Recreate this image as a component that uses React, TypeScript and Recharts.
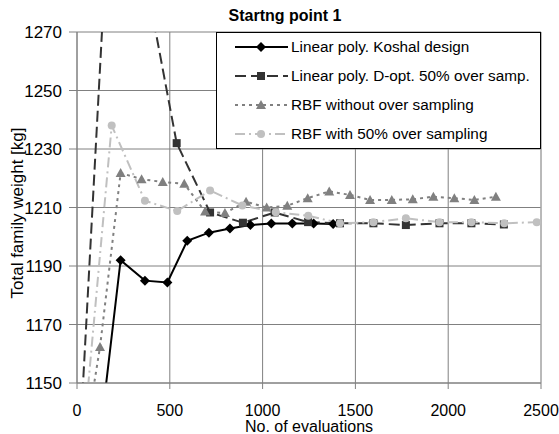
import { LineChart, Line, XAxis, YAxis, CartesianGrid, Legend, Label, ReferenceLine } from "recharts";

const xTicks = [0, 500, 1000, 1500, 2000, 2500];
const yTicks = [1150, 1170, 1190, 1210, 1230, 1250, 1270];

const koshalEvals = [150, 235, 366, 487, 594, 711, 824, 934, 1047, 1160, 1275, 1380];
const koshalWeight = [1146, 1192, 1185, 1184.4, 1198.6, 1201.4, 1202.8, 1204, 1204.5, 1204.5, 1204.5, 1204.4];

const dOptEvals = [25, 199, 537, 717, 894, 1065, 1245, 1417, 1597, 1772, 1953, 2125, 2300];
const dOptWeight = [1141, 1346, 1232, 1208.3, 1204.8, 1208.3, 1205, 1204.6, 1204.6, 1204, 1204.6, 1204.6, 1204.2];

const rbfNoOsEvals = [70, 124, 235, 348, 462, 578, 690, 797, 911, 1022, 1133, 1243, 1359, 1471, 1579, 1696, 1809, 1920, 2033, 2141, 2257];
const rbfNoOsWeight = [1141, 1162.3, 1221.8, 1219.7, 1218.7, 1218.1, 1208.6, 1208.1, 1212, 1210, 1210.6, 1213.2, 1215.5, 1214.3, 1212.6, 1212.6, 1212.8, 1213.7, 1213.2, 1212.6, 1213.7];

const rbfOsEvals = [50, 187, 366, 540, 717, 891, 1071, 1246, 1417, 1597, 1772, 1953, 2125, 2302, 2477];
const rbfOsWeight = [1142, 1238, 1212.3, 1208.8, 1215.8, 1210.7, 1208.4, 1207.2, 1204.6, 1205, 1206.3, 1205, 1205, 1204.6, 1205];

const toPoints = (xs: number[], ys: number[]) => xs.map((x, i) => ({ x, y: ys[i] }));

const FONT = "Arial, 'Liberation Sans', sans-serif";

const series = [
  { name: "Linear poly. Koshal design", data: toPoints(koshalEvals, koshalWeight), color: "#000000", shape: "diamond", dash: undefined },
  { name: "Linear poly. D-opt. 50% over samp.", data: toPoints(dOptEvals, dOptWeight), color: "#333333", shape: "square", dash: "11 5" },
  { name: "RBF without over sampling", data: toPoints(rbfNoOsEvals, rbfNoOsWeight), color: "#808080", shape: "triangle", dash: "3 4" },
  { name: "RBF with 50% over sampling", data: toPoints(rbfOsEvals, rbfOsWeight), color: "#c0c0c0", shape: "circle", dash: "10 4 2 4" },
];

function Marker({ shape, cx, cy, color }: { shape: string; cx: number; cy: number; color: string }) {
  if (shape === "diamond") {
    return <polygon points={`${cx},${cy - 5} ${cx + 5},${cy} ${cx},${cy + 5} ${cx - 5},${cy}`} fill={color} />;
  }
  if (shape === "square") {
    return <rect x={cx - 4} y={cy - 4} width={8} height={8} fill={color} />;
  }
  if (shape === "triangle") {
    return <polygon points={`${cx},${cy - 5} ${cx + 5},${cy + 4} ${cx - 5},${cy + 4}`} fill={color} />;
  }
  return <circle cx={cx} cy={cy} r={4} fill={color} />;
}

function LegendBox() {
  const rows = [15, 44, 73, 102];
  return (
    <svg width={325} height={117} style={{ display: "block" }}>
      <rect x={0.5} y={0.5} width={324} height={116} fill="#fff" stroke="#000" />
      {series.map((s, i) => (
        <g key={s.name}>
          <line x1={19} x2={72} y1={rows[i]} y2={rows[i]} stroke={s.color} strokeWidth={2} strokeDasharray={s.dash} />
          <Marker shape={s.shape} cx={45} cy={rows[i]} color={s.color} />
          <text x={75} y={rows[i] + 5} fontSize={15.3} fontFamily={FONT} fill="#000">
            {s.name}
          </text>
        </g>
      ))}
    </svg>
  );
}

export default function App() {
  return (
    <div style={{ position: "absolute", left: 0, top: 0, width: 559, height: 434, background: "#fff", fontFamily: FONT }}>
      <div style={{ position: "absolute", left: 0, width: 570, top: 8, textAlign: "center", fontSize: 16, lineHeight: "16px", fontWeight: "bold" }}>
        Startng point 1
      </div>
      <LineChart width={559} height={434} margin={{ top: 32, right: 18, bottom: 0, left: 0 }}>
        <CartesianGrid stroke="#808080" />
        <ReferenceLine x={2500} stroke="#b4b4b4" />
        <XAxis
          type="number"
          dataKey="x"
          domain={[0, 2500]}
          ticks={xTicks}
          allowDataOverflow
          height={51}
          tickSize={6}
          tickMargin={16}
          stroke="#808080"
          tick={{ fill: "#000", fontSize: 16, fontFamily: FONT }}
        >
          <Label
            content={() => (
              <text x={309} y={432} textAnchor="middle" fontSize={16} fontFamily={FONT} fill="#000">
                No. of evaluations
              </text>
            )}
          />
        </XAxis>
        <YAxis
          type="number"
          domain={[1150, 1270]}
          ticks={yTicks}
          allowDataOverflow
          width={77}
          tickSize={8}
          tickMargin={7}
          stroke="#808080"
          tick={{ fill: "#000", fontSize: 17, fontFamily: FONT }}
        >
          <Label
            content={() => (
              <text x={23} y={213} transform="rotate(-90 23 213)" textAnchor="middle" fontSize={17} fontFamily={FONT} fill="#000">
                Total family weight [kg]
              </text>
            )}
          />
        </YAxis>
        <Legend
          layout="vertical"
          align="center"
          verticalAlign="middle"
          wrapperStyle={{ left: 216, top: 32, width: 325, height: 117 }}
          content={() => <LegendBox />}
        />
        {series.map((s) => (
          <Line
            key={s.name}
            data={s.data}
            dataKey="y"
            name={s.name}
            stroke={s.color}
            strokeWidth={2}
            strokeDasharray={s.dash}
            isAnimationActive={false}
            dot={(p: any) =>
              p.cx == null || p.cy == null ? <g key={p.index} /> : <Marker key={p.index} shape={s.shape} cx={p.cx} cy={p.cy} color={s.color} />
            }
            activeDot={false}
          />
        ))}
      </LineChart>
    </div>
  );
}
